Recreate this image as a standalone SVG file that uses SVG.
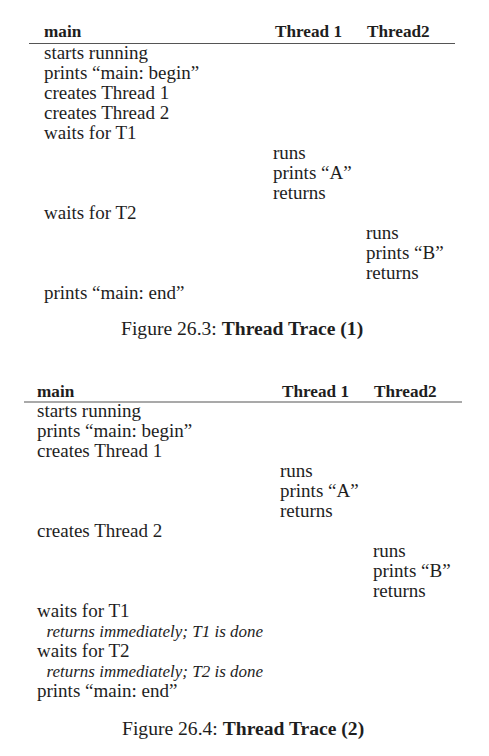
<svg xmlns="http://www.w3.org/2000/svg" width="489" height="756" viewBox="0 0 489 756">
<style>
text{font-family:"Liberation Serif","Times New Roman",serif;fill:#1e1e1e;font-size:19px}
.h{font-weight:bold;font-size:17.2px}
.i{font-style:italic;font-size:17px}
.cap{font-size:19.6px}
.rule{stroke:#555;stroke-width:1.2}
</style>
<rect width="489" height="756" fill="#fff"/>
<g id="figure-26-3">
<g id="header1">
<text class="h" x="44" y="37">main</text>
<text class="h" x="275" y="37">Thread 1</text>
<text class="h" x="367" y="37">Thread2</text>
<line class="rule" x1="29" y1="43.5" x2="455" y2="43.5"/>
</g>
<g id="main1">
<text x="44" y="58.5">starts running</text>
<text x="44" y="78.5">prints “main: begin”</text>
<text x="44" y="98.5">creates Thread 1</text>
<text x="44" y="118.5">creates Thread 2</text>
<text x="44" y="138.5">waits for T1</text>
<text x="44" y="218.5">waits for T2</text>
<text x="44" y="298.5">prints “main: end”</text>
</g>
<g id="t1a">
<text x="273" y="158.5">runs</text>
<text x="273" y="178.5">prints “A”</text>
<text x="273" y="198.5">returns</text>
</g>
<g id="t2a">
<text x="366" y="238.5">runs</text>
<text x="366" y="258.5">prints “B”</text>
<text x="366" y="278.5">returns</text>
</g>
<text class="cap" x="121" y="335">Figure 26.3: <tspan font-weight="bold">Thread Trace (1)</tspan></text>
</g>
<g id="figure-26-4">
<g id="header2">
<text class="h" x="37" y="396.5">main</text>
<text class="h" x="282" y="396.5">Thread 1</text>
<text class="h" x="374" y="396.5">Thread2</text>
<line class="rule" x1="24" y1="402" x2="462" y2="402"/>
</g>
<g id="main2">
<text x="37" y="416.7">starts running</text>
<text x="37" y="436.7">prints “main: begin”</text>
<text x="37" y="456.7">creates Thread 1</text>
<text x="37" y="536.7">creates Thread 2</text>
<text x="37" y="616.7">waits for T1</text>
<text class="i" x="46.5" y="636.7">returns immediately; T1 is done</text>
<text x="37" y="656.7">waits for T2</text>
<text class="i" x="46.5" y="676.7">returns immediately; T2 is done</text>
<text x="37" y="696.7">prints “main: end”</text>
</g>
<g id="t1b">
<text x="280" y="476.7">runs</text>
<text x="280" y="496.7">prints “A”</text>
<text x="280" y="516.7">returns</text>
</g>
<g id="t2b">
<text x="373" y="556.7">runs</text>
<text x="373" y="576.7">prints “B”</text>
<text x="373" y="596.7">returns</text>
</g>
<text class="cap" x="122" y="735">Figure 26.4: <tspan font-weight="bold">Thread Trace (2)</tspan></text>
</g>
</svg>
